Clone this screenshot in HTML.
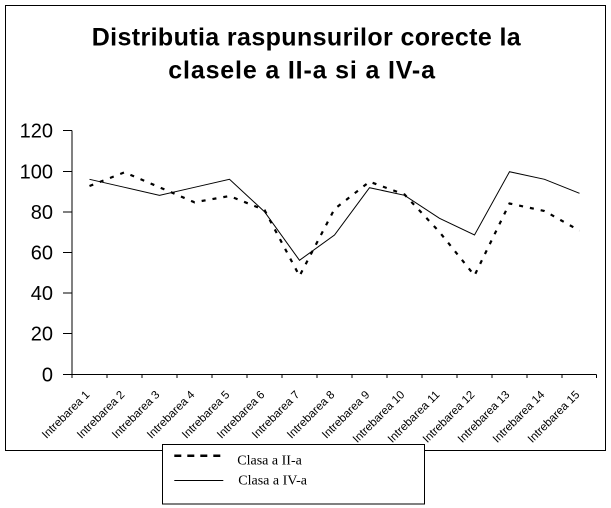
<!DOCTYPE html>
<html>
<head>
<meta charset="utf-8">
<style>
  html, body { margin: 0; padding: 0; background: #fff; }
  svg { display: block; }
</style>
</head>
<body>
<svg width="611" height="508" viewBox="0 0 611 508" xmlns="http://www.w3.org/2000/svg">
  <rect x="0" y="0" width="611" height="508" fill="#fff"/>
  <!-- outer frame -->
  <rect x="5.5" y="5.5" width="600" height="445" fill="#fff" stroke="#000" stroke-width="1"/>

  <!-- title -->
  <g font-family="'Liberation Sans', Arial, sans-serif" font-weight="bold" font-size="25" fill="#000">
    <text x="91.7" y="45.7" textLength="429" lengthAdjust="spacing">Distributia raspunsurilor corecte la</text>
    <text x="168.3" y="78.3" textLength="266.7" lengthAdjust="spacing">clasele a II-a si a IV-a</text>
  </g>

  <!-- axes -->
  <g stroke="#000" stroke-width="1" fill="none" shape-rendering="crispEdges">
    <line x1="72" y1="130.7" x2="72" y2="374.5"/>
    <line x1="72" y1="374.5" x2="596.5" y2="374.5"/>
    <!-- y ticks -->
    <line x1="63" y1="130.7" x2="72" y2="130.7"/>
    <line x1="63" y1="171.3" x2="72" y2="171.3"/>
    <line x1="63" y1="211.9" x2="72" y2="211.9"/>
    <line x1="63" y1="252.5" x2="72" y2="252.5"/>
    <line x1="63" y1="293.1" x2="72" y2="293.1"/>
    <line x1="63" y1="333.7" x2="72" y2="333.7"/>
    <line x1="63" y1="374.3" x2="72" y2="374.3"/>
    <!-- x ticks -->
    <line x1="72" y1="374.5" x2="72" y2="378"/>
    <line x1="107" y1="374.5" x2="107" y2="378"/>
    <line x1="142" y1="374.5" x2="142" y2="378"/>
    <line x1="177" y1="374.5" x2="177" y2="378"/>
    <line x1="212" y1="374.5" x2="212" y2="378"/>
    <line x1="247" y1="374.5" x2="247" y2="378"/>
    <line x1="282" y1="374.5" x2="282" y2="378"/>
    <line x1="317" y1="374.5" x2="317" y2="378"/>
    <line x1="352" y1="374.5" x2="352" y2="378"/>
    <line x1="387" y1="374.5" x2="387" y2="378"/>
    <line x1="422" y1="374.5" x2="422" y2="378"/>
    <line x1="457" y1="374.5" x2="457" y2="378"/>
    <line x1="492" y1="374.5" x2="492" y2="378"/>
    <line x1="527" y1="374.5" x2="527" y2="378"/>
    <line x1="562" y1="374.5" x2="562" y2="378"/>
    <line x1="596.5" y1="374.5" x2="596.5" y2="378"/>
  </g>

  <!-- y labels -->
  <g font-family="'Liberation Sans', Arial, sans-serif" font-size="20" fill="#000" text-anchor="end">
    <text x="53" y="137.7">120</text>
    <text x="53" y="178.3">100</text>
    <text x="53" y="218.9">80</text>
    <text x="53" y="259.5">60</text>
    <text x="53" y="300.1">40</text>
    <text x="53" y="340.7">20</text>
    <text x="53" y="381.3">0</text>
  </g>

  <!-- x labels -->
  <g font-family="'Liberation Sans', Arial, sans-serif" font-size="11.5" fill="#000" text-anchor="end">
    <text transform="translate(90.3,395.3) rotate(-45)" textLength="62" lengthAdjust="spacing">Intrebarea 1</text>
    <text transform="translate(125.3,395.3) rotate(-45)" textLength="62" lengthAdjust="spacing">Intrebarea 2</text>
    <text transform="translate(160.3,395.3) rotate(-45)" textLength="62" lengthAdjust="spacing">Intrebarea 3</text>
    <text transform="translate(195.3,395.3) rotate(-45)" textLength="62" lengthAdjust="spacing">Intrebarea 4</text>
    <text transform="translate(230.3,395.3) rotate(-45)" textLength="62" lengthAdjust="spacing">Intrebarea 5</text>
    <text transform="translate(265.3,395.3) rotate(-45)" textLength="62" lengthAdjust="spacing">Intrebarea 6</text>
    <text transform="translate(300.3,395.3) rotate(-45)" textLength="62" lengthAdjust="spacing">Intrebarea 7</text>
    <text transform="translate(335.3,395.3) rotate(-45)" textLength="62" lengthAdjust="spacing">Intrebarea 8</text>
    <text transform="translate(370.3,395.3) rotate(-45)" textLength="62" lengthAdjust="spacing">Intrebarea 9</text>
    <text transform="translate(405.3,395.3) rotate(-45)" textLength="68" lengthAdjust="spacing">Intrebarea 10</text>
    <text transform="translate(440.3,395.3) rotate(-45)" textLength="68" lengthAdjust="spacing">Intrebarea 11</text>
    <text transform="translate(475.3,395.3) rotate(-45)" textLength="68" lengthAdjust="spacing">Intrebarea 12</text>
    <text transform="translate(510.3,395.3) rotate(-45)" textLength="68" lengthAdjust="spacing">Intrebarea 13</text>
    <text transform="translate(545.3,395.3) rotate(-45)" textLength="68" lengthAdjust="spacing">Intrebarea 14</text>
    <text transform="translate(580.3,395.3) rotate(-45)" textLength="68" lengthAdjust="spacing">Intrebarea 15</text>
  </g>

  <!-- series: Clasa a IV-a (solid) -->
  <polyline fill="none" stroke="#000" stroke-width="1"
    points="89.5,179.3 124.5,187.3 159.5,195.3 194.5,187.3 229.5,179.3 264.5,211.7 299.5,260.3 334.5,235 369.5,187.7 404.5,195.3 439.5,218.3 474.5,235 509.5,171.7 544.5,179.3 579.5,193.3"/>

  <!-- series: Clasa a II-a (dashed) -->
  <polyline fill="none" stroke="#000" stroke-width="2.2" stroke-dasharray="4 7"
    points="89.5,186 124.5,172.3 159.5,187.3 194.5,202.3 229.5,196 264.5,210 299.5,276 334.5,209 369.5,181.7 404.5,194.5 439.5,232 474.5,275.5 509.5,203.5 544.5,211 579.5,230.7"/>

  <!-- legend -->
  <rect x="162.5" y="444.5" width="262" height="59.5" fill="#fff" stroke="#000" stroke-width="1" shape-rendering="crispEdges"/>
  <line x1="174.3" y1="455.7" x2="223.3" y2="455.7" stroke="#000" stroke-width="2.5" stroke-dasharray="7 6"/>
  <line x1="174.3" y1="480.5" x2="223.3" y2="480.5" stroke="#000" stroke-width="1"/>
  <g font-family="'Liberation Serif', 'Times New Roman', serif" font-size="14" fill="#000">
    <text x="237.3" y="464.3">Clasa a II-a</text>
    <text x="238.3" y="484.5">Clasa a IV-a</text>
  </g>
</svg>
</body>
</html>
